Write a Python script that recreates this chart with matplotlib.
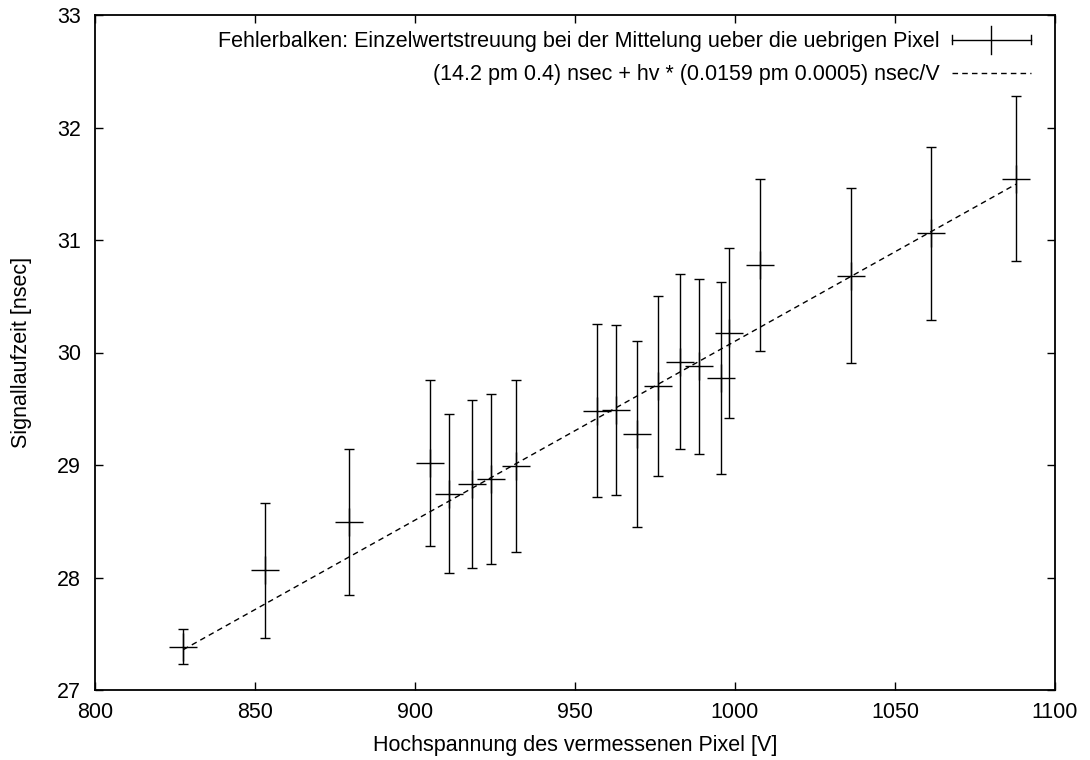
"""Signallaufzeit gegen Hochspannung der vermessenen Pixel, mit linearem Fit."""
import matplotlib

matplotlib.use("Agg")
import matplotlib.pyplot as plt
import numpy as np
from matplotlib.legend_handler import HandlerBase
from matplotlib.lines import Line2D

# Messpunkte: Hochspannung [V], mittlere Laufzeit [nsec], Streuung [nsec]
HV = [827.6, 853.1, 879.5, 904.7, 910.7, 917.8, 923.6, 931.6, 956.9, 962.9,
      969.4, 975.9, 982.9, 988.9, 995.5, 998.2, 1007.8, 1036.1, 1061.1, 1087.8]
LAUFZEIT = [27.385, 28.063, 28.495, 29.018, 28.746, 28.828, 28.878, 28.992, 29.483, 29.487,
            29.274, 29.703, 29.918, 29.876, 29.775, 30.176, 30.777, 30.682, 31.061, 31.545]
STREUUNG = [0.155, 0.598, 0.650, 0.738, 0.710, 0.747, 0.756, 0.768, 0.767, 0.755,
            0.828, 0.800, 0.777, 0.777, 0.855, 0.756, 0.764, 0.778, 0.769, 0.735]

# Fitparameter
OFFSET, OFFSET_ERR = 14.2, 0.4
SLOPE, SLOPE_ERR = 0.0159, 0.0005

X_TICKS = [800, 850, 900, 950, 1000, 1050, 1100]
Y_TICKS = [27, 28, 29, 30, 31, 32, 33]

FONTSIZE = 15.5


class HandlerGnuplotErr(HandlerBase):
    """Horizontale Linie mit Endstrichen und Kreuz in der Mitte."""

    def create_artists(self, legend, orig_handle, xdescent, ydescent,
                       width, height, fontsize, trans):
        y = height / 2 - ydescent
        x0, x1 = -xdescent, width - xdescent
        xm = (x0 + x1) / 2
        cap = 3.0
        arts = [
            Line2D([x0, x1], [y, y]),
            Line2D([x0, x0], [y - cap, y + cap]),
            Line2D([x1, x1], [y - cap, y + cap]),
            Line2D([xm, xm], [y - 10, y + 10]),
        ]
        for a in arts:
            a.set_color("black")
            a.set_linewidth(1.0)
            a.set_transform(trans)
        return arts


plt.rcParams["font.family"] = ["Liberation Sans", "DejaVu Sans"]
plt.rcParams["font.size"] = FONTSIZE

fig = plt.figure(figsize=(10.9, 7.6), dpi=100)
ax = fig.add_axes([95 / 1090, 1 - 690 / 760, 960 / 1090, 675 / 760])

err = ax.errorbar(HV, LAUFZEIT, yerr=STREUUNG, fmt="+", color="black",
                  markersize=20, markeredgewidth=1.0, elinewidth=1.0,
                  capsize=3.5, capthick=1.0)

hv_fit = np.array([HV[0], HV[-1]])
fit_line, = ax.plot(hv_fit, OFFSET + SLOPE * hv_fit, color="black",
                    linewidth=1.0, dashes=(4, 3))

ax.set_xlim(800, 1100)
ax.set_ylim(27, 33)
ax.set_xticks(X_TICKS)
ax.set_yticks(Y_TICKS)
ax.tick_params(direction="in", length=6, width=1.0, top=True, right=True,
               labelsize=FONTSIZE)
ax.tick_params(axis="x", pad=9)
ax.tick_params(axis="y", pad=10)
for spine in ax.spines.values():
    spine.set_linewidth(1.3)

ax.set_xlabel("Hochspannung des vermessenen Pixel [V]", fontsize=FONTSIZE, labelpad=8)
ax.set_ylabel("Signallaufzeit [nsec]", fontsize=FONTSIZE, labelpad=18)

fit_label = (f"({OFFSET} pm {OFFSET_ERR}) nsec + hv * "
             f"({SLOPE} pm {SLOPE_ERR}) nsec/V")
ax.legend([err, fit_line],
          ["Fehlerbalken: Einzelwertstreuung bei der Mittelung ueber die uebrigen Pixel",
           fit_label],
          handler_map={type(err): HandlerGnuplotErr()},
          loc="upper right", bbox_to_anchor=(0.975, 0.976),
          frameon=False, markerfirst=False, borderpad=0, borderaxespad=0,
          handlelength=3.67, handletextpad=0.56, labelspacing=0.56,
          fontsize=FONTSIZE)

fig.savefig("out.png", dpi=100)
